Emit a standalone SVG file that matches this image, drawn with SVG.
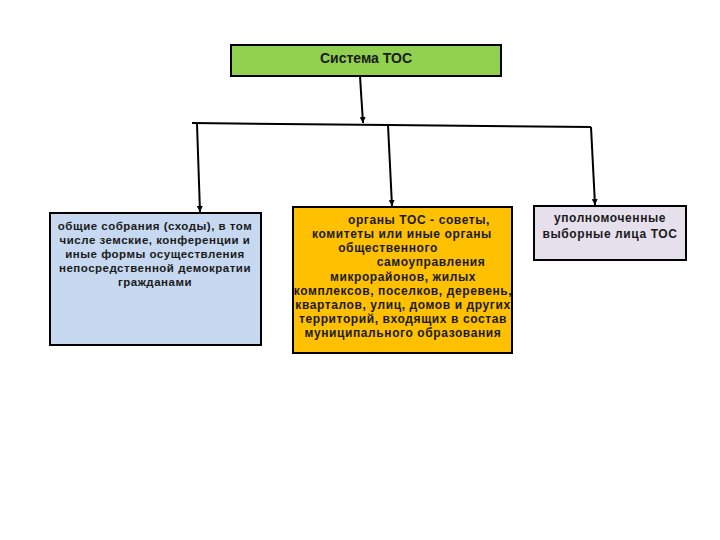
<svg xmlns="http://www.w3.org/2000/svg" width="720" height="540" viewBox="0 0 720 540">
<defs>
<marker id="ah" viewBox="0 0 10 10" refX="10" refY="5" markerWidth="6" markerHeight="6" orient="auto" markerUnits="userSpaceOnUse">
<path d="M0,0 L10,5 L0,10 z" fill="#000"/>
</marker>
<style>
.box{stroke:#000;stroke-width:2}
.t{font-family:"Liberation Sans",Arial,sans-serif;font-weight:bold;font-size:11.5px;letter-spacing:0.5px;fill:#1a1a1a;text-anchor:middle}
.m{font-size:12px;letter-spacing:0.6px}
.c{stroke:#000;stroke-width:2;fill:none}
</style>
</defs>
<rect width="720" height="540" fill="#fff"/>
<g id="connectors">
<line class="c" x1="360" y1="76" x2="363" y2="123" marker-end="url(#ah)"/>
<polyline class="c" points="192,123 388,125 591,127"/>
<line class="c" x1="197" y1="124" x2="200" y2="212" marker-end="url(#ah)"/>
<line class="c" x1="388" y1="125" x2="392" y2="206" marker-end="url(#ah)"/>
<line class="c" x1="591" y1="127" x2="595" y2="205" marker-end="url(#ah)"/>
</g>
<g id="top">
<rect class="box" x="231" y="45" width="270" height="31" fill="#92D050"/>
<text class="t" x="366" y="63" style="font-size:14px;letter-spacing:0">Система ТОС</text>
</g>
<g id="left">
<rect class="box" x="50" y="213" width="211" height="132" fill="#C6D9F1"/>
<text class="t" x="155" y="230">общие собрания (сходы), в том</text>
<text class="t" x="155" y="244">числе земские, конференции и</text>
<text class="t" x="155" y="258">иные формы осуществления</text>
<text class="t" x="155" y="272">непосредственной демократии</text>
<text class="t" x="155" y="286">гражданами</text>
</g>
<g id="middle">
<rect class="box" x="293" y="207" width="219" height="146" fill="#FFC000"/>
<text class="t m" x="419" y="224">органы ТОС - советы,</text>
<text class="t m" x="402" y="238">комитеты или иные органы</text>
<text class="t m" x="388" y="252">общественного</text>
<text class="t m" x="431" y="266">самоуправления</text>
<text class="t m" x="403" y="281">микрорайонов, жилых</text>
<text class="t m" x="403" y="295">комплексов, поселков, деревень,</text>
<text class="t m" x="403" y="309">кварталов, улиц, домов и других</text>
<text class="t m" x="403" y="323">территорий, входящих в состав</text>
<text class="t m" x="403" y="337">муниципального образования</text>
</g>
<g id="right">
<rect class="box" x="534" y="206" width="152" height="54" fill="#E6E0EC"/>
<text class="t m" x="610" y="222">уполномоченные</text>
<text class="t m" x="610" y="238">выборные лица ТОС</text>
</g>
</svg>
